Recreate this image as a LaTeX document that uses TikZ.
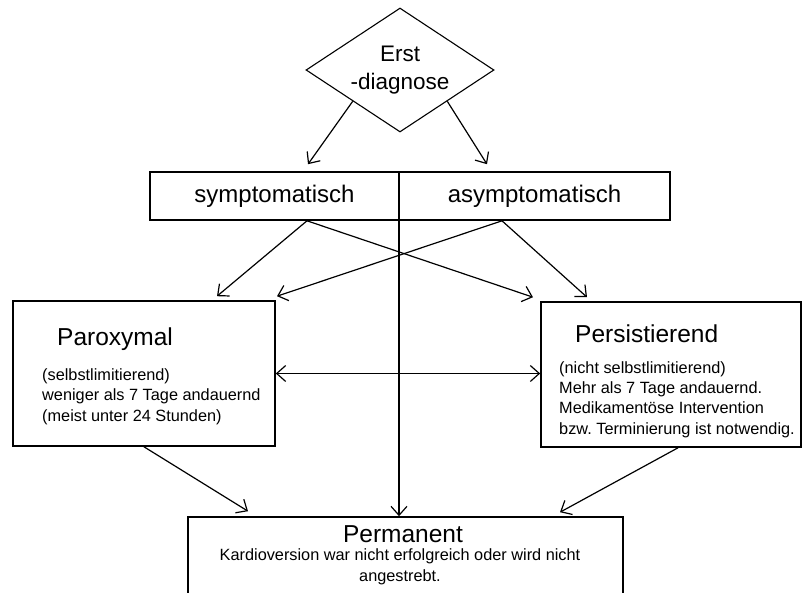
\documentclass[tikz,border=0pt]{standalone}
\usepackage{fontspec}
\setmainfont{Liberation Sans}
\usepackage{tikz}
\usetikzlibrary{arrows.meta, positioning, shapes.geometric, calc}
\frenchspacing

\begin{document}
\begin{tikzpicture}[
      x=1pt, y=-1pt,
      >={Straight Barb[length=9pt, width=16pt]},
      box/.style={draw, line width=1.6pt, inner sep=0pt},
      arr/.style={->, line width=1.2pt},
      head/.style={font=\fontsize{24.5}{28}\selectfont, inner sep=0pt},
      small/.style={font=\fontsize{16.3}{20.3}\selectfont, align=left, inner sep=0pt}
    ]
      \useasboundingbox (0,0) rectangle (803,592);
      % Erstdiagnose
      \node[draw, line width=1.1pt, diamond, aspect=1.5, inner sep=0pt, minimum width=188pt, minimum height=124pt,
            align=center, font=\fontsize{22.5}{28}\selectfont] (diag) at (400,70) {Erst\\-diagnose};
      \node[box, minimum width=249pt, minimum height=48pt, font=\fontsize{24}{26}\selectfont] (sym) at (274.5,196) {symptomatisch};
      \node[box, minimum width=271pt, minimum height=48pt, font=\fontsize{24}{26}\selectfont] (asym) at (534.5,196) {asymptomatisch};
      \coordinate (split) at (399,172);
      % Verlaufsformen
      \node[box, minimum width=262pt, minimum height=145pt] (parox) at (144,373.5) {};
      \node[head, anchor=base west] (paroxT) at (57,345) {Paroxymal};
      \node[small, anchor=base west] (paroxX) at (42,421) {(selbstlimitierend)\\weniger als 7 Tage andauernd\\(meist unter 24 Stunden)};
      \node[box, minimum width=260pt, minimum height=145pt] (pers) at (671,374.5) {};
      \node[head, anchor=base west] (persT) at (575,342) {Persistierend};
      \node[small, anchor=base west] (persX) at (559,434) {(nicht selbstlimitierend)\\Mehr als 7 Tage andauernd.\\Medikament\"ose Intervention\\bzw. Terminierung ist notwendig.};
      \node[box, minimum width=435pt, minimum height=100pt] (perm) at (405.5,567) {};
      \node[head, anchor=base] (permT) at (403,542) {Permanent};
      \node[small, align=center, anchor=base] (permX) at (400,581) {Kardioversion war nicht erfolgreich oder wird nicht\\angestrebt.};
      % Pfeile
      \draw[arr] (diag.south west) -- ([xshift=33.5pt, yshift=7pt]sym.north);
      \draw[arr] (diag.south east) -- ([xshift=-47.5pt, yshift=7pt]asym.north);
      \draw[arr] ([xshift=32.5pt]sym.south) -- ([xshift=73pt, yshift=4pt]parox.north);
      \draw[arr] ([xshift=32.5pt]sym.south) -- ([xshift=-138pt, yshift=4pt]pers.north);
      \draw[arr] ([xshift=-32.5pt]asym.south) -- ([xshift=133pt, yshift=4pt]parox.north);
      \draw[arr] ([xshift=-32.5pt]asym.south) -- ([xshift=-84pt, yshift=4pt]pers.north);
      \draw[arr, <->] (parox.east) -- (parox.east -| pers.west);
      \draw[arr] (parox.south) -- ([xshift=-157.5pt, yshift=5pt]perm.north);
      \draw[arr] ([xshift=7pt]pers.south) -- ([xshift=154.5pt, yshift=4pt]perm.north);
      \draw[arr] (split) -- (split |- perm.north);
    \end{tikzpicture}
\end{document}
